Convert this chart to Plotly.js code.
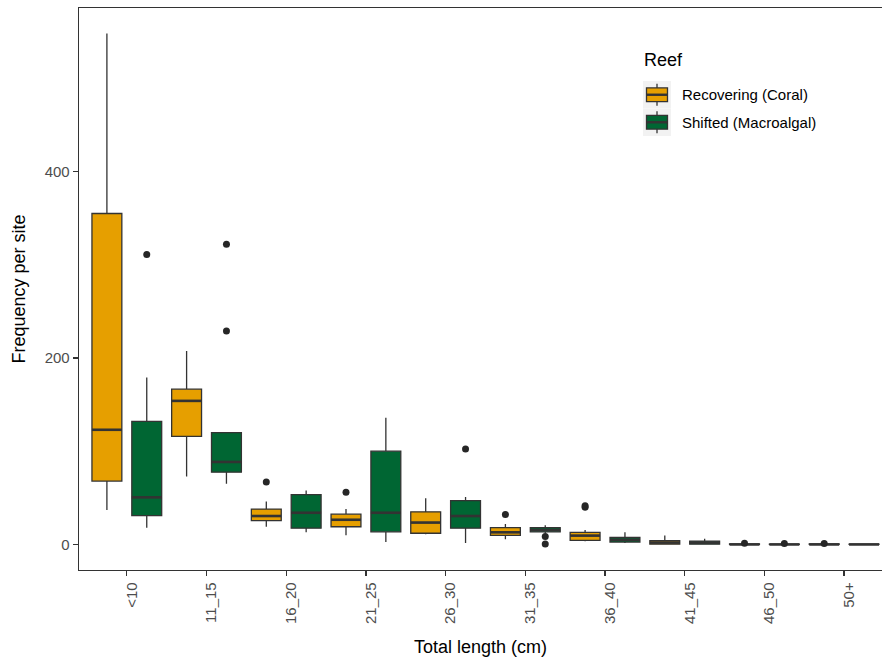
<!DOCTYPE html>
<html>
<head>
<meta charset="utf-8">
<script src="https://cdn.plot.ly/plotly-3.0.1.min.js"></script>
<style>html,body{margin:0;padding:0;background:#fff;overflow:hidden}#chart{width:882px;height:657px}</style>
</head>
<body>
<div id="chart"></div>
<script>
// ---- data ----
const categories = ['<10','11_15','16_20','21_25','26_30','31_35','36_40','41_45','46_50','50+'];
const seriesNames = ['Recovering (Coral)','Shifted (Macroalgal)'];

// Recovering (Coral)
const recLower  = [37, 73, 19, 10, 11, 5.5, 3.5, 0, 0, 0];
const recQ1     = [68, 116, 25.5, 19, 12, 9.7, 4.3, 0.3, 0, 0];
const recMedian = [123, 154, 30.5, 26.5, 23.5, 13, 9.5, 2, 0, 0];
const recQ3     = [355, 166.5, 38, 32.5, 35, 18, 13, 4, 0.5, 0.5];
const recUpper  = [548, 207.5, 46, 38, 49.5, 22, 15.5, 9.5, 0.5, 0.5];
const recOutliers = [[], [], [67], [56], [], [32], [40, 41.5], [], [1.2], [1]];

// Shifted (Macroalgal)
const shiLower  = [18, 65, 13, 2.5, 1.5, 12, 1.5, 0, 0, 0];
const shiQ1     = [31, 77.5, 17.5, 13.5, 17.5, 13.6, 2.5, 0.3, 0, 0];
const shiMedian = [50.5, 88.5, 34, 34, 30.5, 15.5, 5, 2, 0, 0];
const shiQ3     = [132, 120, 53.5, 100, 47, 18, 7.5, 3.5, 0.3, 0.3];
const shiUpper  = [179, 120, 58, 136, 51, 20.5, 13, 6, 0.3, 0.3];
const shiOutliers = [[311], [229, 322], [], [], [102.5], [8.5, 0.5], [], [], [1], []];

const yTicks = [0, 200, 400];

// ---- style ----
const colors = ['#E69F00', '#006633'];
const lineCol = '#333333';
const FONT = 'Liberation Sans, Arial, sans-serif';
const dodge = 0.25, boxW = 0.375;

const idx = categories.map((_, i) => i);
const series = [
  {name: seriesNames[0], lo: recLower, q1: recQ1, med: recMedian, q3: recQ3, up: recUpper, out: recOutliers, off: -dodge, color: colors[0]},
  {name: seriesNames[1], lo: shiLower, q1: shiQ1, med: shiMedian, q3: shiQ3, up: shiUpper, out: shiOutliers, off: dodge, color: colors[1]}
];

const traces = [];
series.forEach(s => {
  const xs = idx.map(i => i + s.off);
  traces.push({
    type: 'box', name: s.name, x: xs,
    q1: s.q1, median: s.med, q3: s.q3, lowerfence: s.lo, upperfence: s.up,
    width: boxW, whiskerwidth: 0, boxpoints: false,
    fillcolor: s.color, line: {color: lineCol, width: 1.3},
    showlegend: false, hoverinfo: 'skip'
  });
});
// thicker median lines
series.forEach(s => {
  const mx = [], my = [];
  idx.forEach(i => {
    const c = i + s.off;
    mx.push(c - boxW / 2, c + boxW / 2, null);
    my.push(s.med[i], s.med[i], null);
  });
  traces.push({type: 'scatter', mode: 'lines', x: mx, y: my, line: {color: lineCol, width: 2.6},
    showlegend: false, hoverinfo: 'skip'});
});
// outliers
series.forEach(s => {
  const ox = [], oy = [];
  idx.forEach(i => s.out[i].forEach(v => { ox.push(i + s.off); oy.push(v); }));
  traces.push({type: 'scatter', mode: 'markers', x: ox, y: oy,
    marker: {color: '#262626', size: 7, line: {width: 0}}, showlegend: false, hoverinfo: 'skip'});
});

// ---- layout geometry ----
const W = 882, H = 657;
const mL = 79, mR = 0, mT = 8, mB = 87;
const pw = W - mL - mR, ph = H - mT - mB;
const PX = p => (p - mL) / pw;
const PY = p => (H - mB - p) / ph;
const catPx = 79.7;

// custom legend
const shapes = [], annotations = [];
const keyLeft = 643, keyW = 28, keyH = 27.5, keyTop0 = 81;
series.forEach((s, k) => {
  const top = keyTop0 + k * keyH;
  shapes.push({type: 'rect', xref: 'paper', yref: 'paper', x0: PX(keyLeft), x1: PX(keyLeft + keyW),
    y0: PY(top), y1: PY(top + keyH), fillcolor: '#F2F2F2', line: {width: 0}, layer: 'above'});
  const bx0 = keyLeft + keyW * 0.125, bx1 = keyLeft + keyW * 0.875, cx = keyLeft + keyW / 2;
  const by0 = top + keyH * 0.25, by1 = top + keyH * 0.75, cy = top + keyH / 2;
  shapes.push({type: 'line', xref: 'paper', yref: 'paper', x0: PX(cx), x1: PX(cx),
    y0: PY(top + keyH * 0.1), y1: PY(top + keyH * 0.9), line: {color: lineCol, width: 1.3}, layer: 'above'});
  shapes.push({type: 'rect', xref: 'paper', yref: 'paper', x0: PX(bx0), x1: PX(bx1),
    y0: PY(by0), y1: PY(by1), fillcolor: s.color, line: {color: lineCol, width: 1.3}, layer: 'above'});
  shapes.push({type: 'line', xref: 'paper', yref: 'paper', x0: PX(bx0), x1: PX(bx1),
    y0: PY(cy), y1: PY(cy), line: {color: lineCol, width: 2.4}, layer: 'above'});
  annotations.push({xref: 'paper', yref: 'paper', x: PX(680), y: PY(cy), xanchor: 'left', yanchor: 'middle',
    text: s.name, showarrow: false, font: {family: FONT, size: 15, color: '#000'}});
});
annotations.push({xref: 'paper', yref: 'paper', x: PX(642), y: PY(60), xanchor: 'left', yanchor: 'middle',
  text: 'Reef', showarrow: false, font: {family: FONT, size: 18, color: '#000'}});

const layout = {
  width: W, height: H,
  margin: {l: mL, r: mR, t: mT, b: mB, pad: 0},
  paper_bgcolor: '#fff', plot_bgcolor: '#fff',
  font: {family: FONT},
  showlegend: false,
  xaxis: {
    range: [-0.6, -0.6 + pw / catPx],
    tickmode: 'array', tickvals: idx, ticktext: categories, tickangle: -90,
    tickfont: {family: FONT, size: 15, color: '#4D4D4D'},
    ticklabelshift: 5,
    ticks: 'outside', ticklen: 5, tickwidth: 1.3, tickcolor: lineCol,
    showline: true, linecolor: lineCol, linewidth: 1.3, mirror: true,
    showgrid: false, zeroline: false, automargin: false,
    title: {text: 'Total length (cm)', font: {family: FONT, size: 18, color: '#000'}, standoff: 17}
  },
  yaxis: {
    range: [-27.4, 575.4],
    tickmode: 'array', tickvals: yTicks, ticktext: yTicks.map(String),
    tickfont: {family: FONT, size: 15, color: '#4D4D4D'},
    ticks: 'outside', ticklen: 5, tickwidth: 1.3, tickcolor: lineCol,
    showline: true, linecolor: lineCol, linewidth: 1.3,
    showgrid: false, zeroline: false, automargin: false,
    title: {text: 'Frequency per site', font: {family: FONT, size: 18, color: '#000'}, standoff: 14}
  },
  boxmode: 'overlay',
  shapes: shapes, annotations: annotations
};

Plotly.newPlot('chart', traces, layout, {staticPlot: true, displayModeBar: false});
</script>
</body>
</html>
